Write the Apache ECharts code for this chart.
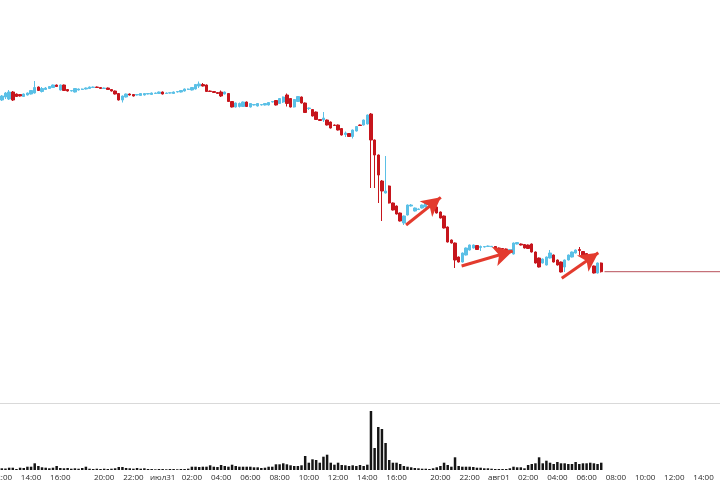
<!DOCTYPE html>
<html>
<head>
<meta charset="utf-8">
<script src="https://cdn.jsdelivr.net/npm/echarts@6/dist/echarts.min.js"></script>
<style>
html,body{margin:0;padding:0;background:#fff;}
#chart{width:720px;height:482px;}
</style>
</head>
<body>
<div id="chart"></div>
<script>
// ---- data (15-minute candles, prices in arbitrary points) ----
const open = [303,306,304,311,309,308.5,306.5,308,309,310,
316,311.5,313.5,314.5,315.5,318,313,318,313.5,312,
311,313,313.5,314,314.5,315.5,316,315.5,314.5,315,
313.5,312,309.5,303,306,309,308.5,308,307.5,308,
309,308.5,309.5,309.5,311,309.5,310,309.5,311,311,
312,313.5,313,314,317,318.5,318,312,311.5,310.5,
311,309,309.5,301.5,296,296.5,296.5,301,296,298,
297,298,298,298,301,302.5,299.5,301,308,304.5,
296,301.5,306,300,294.5,293.5,291,283.5,283,283,
281,278,278,274.5,268.5,269.5,266.5,272,278,278,
279,289,263,248,222,210,217,200,197,190,
180,188,197,192,193.5,195,196,199,200,196,
191,187,176,163,160,146,141,148,153,155,
157.5,155.5,156,156.5,156.3,156.5,155,154.5,154,152,
149,159,159,158.5,158,159,151,145,140,138,
145,148,143,141,136,143,146,150,153.5,151.5,
149.5,145,137,130,140];
const close = [307,310,311,303,306.5,307,309,310,312.5,315.5,
312.5,314.5,315,316.5,318,316.5,318,312.5,312,312.5,
314.5,314,314,315,316,316,315.5,314.5,315,313.5,
312,309,303,307,309,308,307,308.5,309.5,309.5,
309.5,310,310,311,309,310,310.2,311,311.5,312.5,
314,314,315.5,318.5,319,317,311.5,311.5,310.5,309.5,
307,311,301.5,296,300,299.5,301,296.5,299.5,298.5,
299.5,298.5,299.5,300.5,301.5,298,304.5,306,299.5,296,
303.5,306.5,300,290.5,295,287,283.5,282.5,285,278,
275,277.5,273,268,270,266.5,273,276.5,277.5,283,
288,263,248,228,212,212,200,193,189,182,
187,198,198,195,194,198,200,200,198,190,
185,175,161,160,143,141,150,155,158,158,
153.5,156.5,156.5,157,156.7,155,154.5,154,153.5,153.5,
160,160.5,158,155,154.5,151,140,136,144,146,
150,141,138,131,143,148,151,153,152.5,148,
147,140.5,130,140,131.3];
const low = [302,304,303,302,306,306.5,306,307.5,308.5,309.5,
312,310.5,313,314,315,316,312.5,312,311.5,311.5,
310.5,312.5,313,313.5,314,315,315,314,314,313,
311.5,308.5,302.5,300.5,305.5,307.5,306.5,307.5,307,307.5,
308.5,308,309,309,308.5,309,309.5,309,310.5,310.5,
311.5,313,312.5,313.5,315,316.5,311,311,310,309,
306,308.5,301,295.5,295.5,295.5,296,296,295.5,297.5,
296.5,297.5,297.5,297.5,300.5,297.5,299,300,296.5,295.5,
295.5,301,299.5,290,293,286.5,283,282,281,277.5,
274.5,277,272.5,267.5,266,266,264.5,271.5,277,277.5,
278.5,215,215,200,182,209.5,199.5,192.5,188.5,181.5,
178,187.5,196.5,191.5,193,194.5,195.5,198.5,197.5,189.5,
184.5,174.5,160.5,159.5,135,140.5,140.5,147.5,152.5,154.5,
153,152,155.5,156,156,154.5,154,153.5,153,151.5,
148.5,158.5,157.5,154.5,154,150.5,139.5,135.5,139.5,137.5,
144.5,140.5,137.5,130.5,131,142.5,145.5,149.5,148,147.5,
146.5,140,129.5,129.5,130.5];
const high = [308,311,313,312,309.5,309,309.5,310.5,313,322,
316.5,316,316,317,318.5,318.5,318.5,318.5,314,313,
315,314.5,314.5,315.5,316.5,316.5,316.5,316,315.5,315.5,
314,312.5,310,307.5,309.5,309.5,309,309,310,310,
310,310.5,310.5,311.5,311.5,310.5,310.5,311.5,312,313,
314.5,314.5,316,319,321.5,320,318.5,312.5,312,311,
312.5,311.5,310,302,300.5,300.5,301.5,301.5,300,299,
300,299,300,301,302,303,305,306.5,309.5,305,
304,307,306.5,300.5,295.5,294,291.5,284,291,283.5,
281.5,278.5,278.5,275,271.5,270,273.5,277,278.5,283.5,
288.5,290,263.5,248.5,223,247,217.5,200.5,197.5,190.5,
187.5,198.5,199,195.5,194.5,198.5,200.5,200.5,200.5,196.5,
191.5,187.5,176.5,163.5,160.5,146.5,150.5,155.5,158.5,158.5,
158,157.5,157,157.5,157,157,155.5,155,154.5,154,
160.5,161,159.5,159,158.5,159.5,151.5,145.5,144.5,146.5,
153,148.5,143.5,141.5,143.5,148.5,151.5,153.5,156,152,
150,145.5,137.5,140.5,140.5];
const volume = [170,150,230,230,100,230,200,330,330,670,
400,270,230,170,230,400,200,170,200,130,
170,130,200,330,130,100,130,100,130,100,
130,170,300,300,200,170,130,200,130,170,
100,100,70,100,100,70,100,100,70,100,
100,130,330,330,300,330,330,470,330,300,
500,400,330,530,400,330,330,330,330,270,
270,200,230,330,330,570,570,670,570,470,
400,400,470,1400,730,1070,1000,730,1330,1530,
730,530,730,500,470,400,470,400,500,400,
530,5900,2200,4300,4100,2700,1000,730,730,600,
400,330,270,200,170,130,130,100,170,270,
400,730,500,330,1270,400,330,330,330,300,
230,230,170,170,130,100,100,100,100,170,
330,270,270,170,500,600,670,1270,670,930,
730,600,800,670,670,600,600,800,600,670,
670,730,670,600,730];

// date labels shown at midnight on the time axis
const dateLabels = {"07-31": "июл31", "08-01": "авг01"};
// annotation arrows: [fromIndex, fromPrice, toIndex, toPrice]
const arrows = [[110.6, 178, 120.1, 205.7], [125.8, 137, 139.8, 152], [153.2, 124.7, 163.2, 150.3]];
const lastPrice = close[close.length - 1];

// ---- time slots: 15-min, evening break 18:00-18:45 skipped ----
const SLOTS = 197;
const categories = [];
(function () {
  const pad = n => String(n).padStart(2, '0');
  let t = Date.UTC(2024, 6, 30, 12, 0);
  while (categories.length < SLOTS) {
    const d = new Date(t);
    if (d.getUTCHours() !== 18) {
      categories.push(pad(d.getUTCMonth() + 1) + '-' + pad(d.getUTCDate()) + ' ' + pad(d.getUTCHours()) + ':' + pad(d.getUTCMinutes()));
    }
    t += 15 * 60000;
  }
})();

const candleData = open.map((o, i) => [o, close[i], low[i], high[i]]);

const chart = echarts.init(document.getElementById('chart'), null, {renderer: 'canvas'});
chart.setOption({
  animation: false,
  backgroundColor: '#ffffff',
  grid: [
    {left: 0, right: 0, top: 3, height: 400, containLabel: false, outerBoundsMode: 'none'},
    {left: 0, right: 0, top: 405, height: 65, containLabel: false, outerBoundsMode: 'none'}
  ],
  xAxis: [
    {type: 'category', gridIndex: 0, data: categories, boundaryGap: true,
     axisLabel: {show: false}, axisTick: {show: false},
     axisLine: {show: true, lineStyle: {color: '#d9d9d9', width: 1}}, splitLine: {show: false}},
    {type: 'category', gridIndex: 1, data: categories, boundaryGap: true,
     axisTick: {show: false}, axisLine: {show: false}, splitLine: {show: false},
     axisLabel: {
       interval: function (idx, val) {
         const hm = val.slice(6);
         return hm.slice(3) === '00' && parseInt(hm.slice(0, 2), 10) % 2 === 0;
       },
       formatter: function (val) {
         const hm = val.slice(6);
         if (hm === '00:00') return dateLabels[val.slice(0, 5)] || hm;
         return hm;
       },
       alignMinLabel: 'center', alignMaxLabel: 'center',
       color: '#2b2b2b', fontSize: 8, fontFamily: 'Open Sans', margin: 4
     }},
    {type: 'value', gridIndex: 0, min: -0.5, max: SLOTS - 0.5, show: false}
  ],
  yAxis: [
    {type: 'value', gridIndex: 0, min: 0, max: 400, show: false, splitLine: {show: false}},
    {type: 'value', gridIndex: 1, min: 0, max: 6500, show: false, splitLine: {show: false}}
  ],
  series: [
    {type: 'candlestick', xAxisIndex: 0, yAxisIndex: 0, data: candleData, barWidth: '80%',
     itemStyle: {color: '#5bc0e6', color0: '#c6151c', borderColor: '#5bc0e6', borderColor0: '#c6151c', borderWidth: 1}},
    {type: 'bar', xAxisIndex: 1, yAxisIndex: 1, data: volume, barWidth: '68%',
     itemStyle: {color: '#151515'}},
    {type: 'line', xAxisIndex: 2, yAxisIndex: 0, symbol: 'none', silent: true,
     data: [[close.length - 0.1, lastPrice], [SLOTS - 0.5, lastPrice]],
     lineStyle: {color: '#b8505a', width: 1},
     markLine: {
       silent: true, symbol: ['none', 'arrow'], symbolSize: [15, 19],
       label: {show: false},
       lineStyle: {color: '#e33b2e', width: 3, type: 'solid'},
       data: arrows.map(a => [{coord: [a[0], a[1]]}, {coord: [a[2], a[3]]}])
     }}
  ]
});
</script>
</body>
</html>
